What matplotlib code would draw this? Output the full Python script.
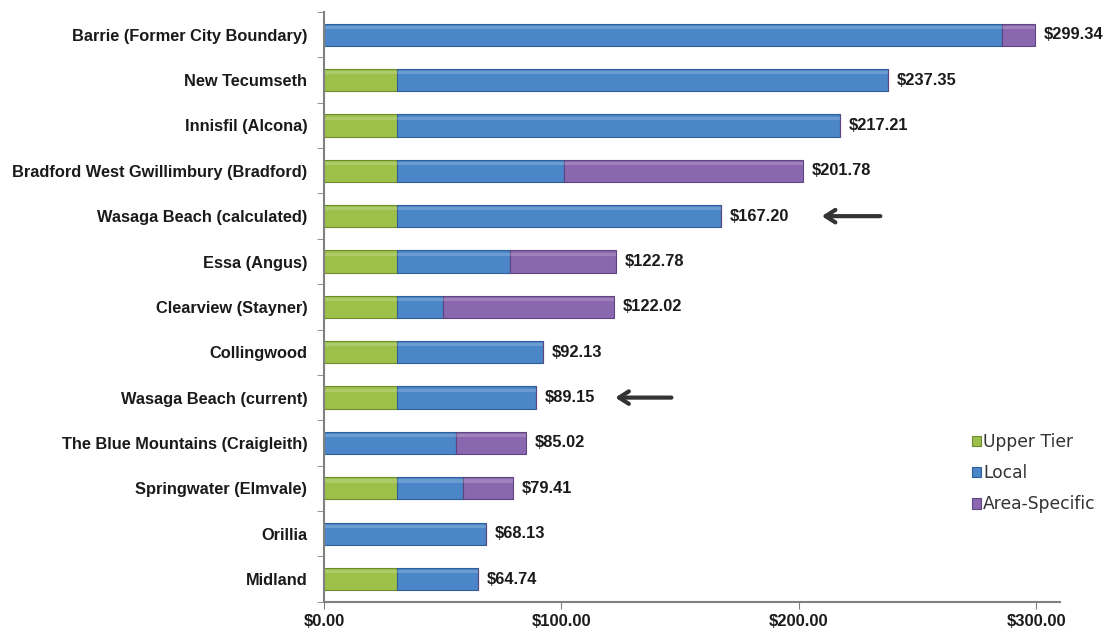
import matplotlib
matplotlib.use("Agg")
import matplotlib.pyplot as plt
import numpy as np

categories = [
    "Barrie (Former City Boundary)",
    "New Tecumseth",
    "Innisfil (Alcona)",
    "Bradford West Gwillimbury (Bradford)",
    "Wasaga Beach (calculated)",
    "Essa (Angus)",
    "Clearview (Stayner)",
    "Collingwood",
    "Wasaga Beach (current)",
    "The Blue Mountains (Craigleith)",
    "Springwater (Elmvale)",
    "Orillia",
    "Midland",
]
upper_tier = [0, 30.6, 30.6, 30.6, 30.6, 30.6, 30.6, 30.6, 30.6, 0, 30.6, 0, 30.6]
local = [285.6, 206.75, 186.61, 70.5, 136.6, 47.8, 19.3, 61.53, 58.55, 55.5, 28.0, 68.13, 34.14]
area_specific = [13.74, 0, 0, 100.68, 0, 44.38, 72.12, 0, 0, 29.52, 20.81, 0, 0]
totals = [299.34, 237.35, 217.21, 201.78, 167.20, 122.78, 122.02, 92.13, 89.15, 85.02, 79.41, 68.13, 64.74]
series_names = ["Upper Tier", "Local", "Area-Specific"]
xticks = [0, 100, 200, 300]
xtick_labels = ["$0.00", "$100.00", "$200.00", "$300.00"]
arrow_rows = ["Wasaga Beach (calculated)", "Wasaga Beach (current)"]

colors = ["#9DC04A", "#4A86C8", "#8A67AE"]
edges = ["#6E8A2E", "#2F5F96", "#5E4580"]

fig = plt.figure(figsize=(11.09, 6.33), dpi=100)
ax = fig.add_axes([0.2922, 0.0494, 0.9558 - 0.2922, 0.981 - 0.0494])

y = np.arange(len(categories))
h = 0.49
u = np.array(upper_tier)
l = np.array(local)
a = np.array(area_specific)
lefts = [np.zeros(len(u)), u, u + l]
handles = []
for vals, left, c, e, name in zip([u, l, a], lefts, colors, edges, series_names):
    bc = ax.barh(y, vals, left=left, height=h, color=c, edgecolor=e, linewidth=0.8, label=name)
    handles.append(bc)
    # subtle highlight near the top of each bar for a glossy look
    ax.barh(y - h * 0.33, vals, left=left, height=h * 0.14, color="white", alpha=0.18, linewidth=0)

for yi, t in zip(y, totals):
    ax.text(t + 3.8, yi, f"${t:,.2f}", va="center", ha="left", fontsize=11.8,
            fontweight="bold", color="#1a1a1a", family="Liberation Sans")

ax.set_ylim(len(categories) - 0.5, -0.5)
ax.set_xlim(0, 310)
ax.set_yticks(y)
ax.set_yticklabels(categories, fontsize=11.8, fontweight="bold", family="Liberation Sans", color="#1a1a1a")
ax.set_yticks(np.arange(-0.5, len(categories), 1), minor=True)
ax.tick_params(axis="y", which="major", length=0, pad=12)
ax.tick_params(axis="y", which="minor", length=5, color="#808080", direction="out")
ax.set_xticks(xticks)
ax.set_xticklabels(xtick_labels, fontsize=12, fontweight="bold", family="Liberation Sans", color="#1a1a1a")
ax.tick_params(axis="x", length=5, color="#808080", direction="out", pad=4)
for s in ["top", "right"]:
    ax.spines[s].set_visible(False)
for s in ["left", "bottom"]:
    ax.spines[s].set_color("#808080")
    ax.spines[s].set_linewidth(1.5)

# arrows
arrow_specs = {"Wasaga Beach (calculated)": (235.5, 208.5), "Wasaga Beach (current)": (147.5, 121.5)}
for name in arrow_rows:
    yi = categories.index(name)
    x0, x1 = arrow_specs[name]
    ax.annotate("", xy=(x1, yi), xytext=(x0, yi),
                arrowprops=dict(arrowstyle="->,head_length=0.7,head_width=0.45", color="#333333", lw=3))

leg = ax.legend(handles, series_names, loc="upper left", bbox_to_anchor=(0.871, 0.298), frameon=False,
                prop={"family": "DejaVu Sans", "size": 12.3}, handlelength=0.55, handleheight=0.55,
                handletextpad=0.1, labelspacing=0.78, borderaxespad=0)
for t in leg.get_texts():
    t.set_color("#333333")

fig.savefig("out.png", dpi=100)
